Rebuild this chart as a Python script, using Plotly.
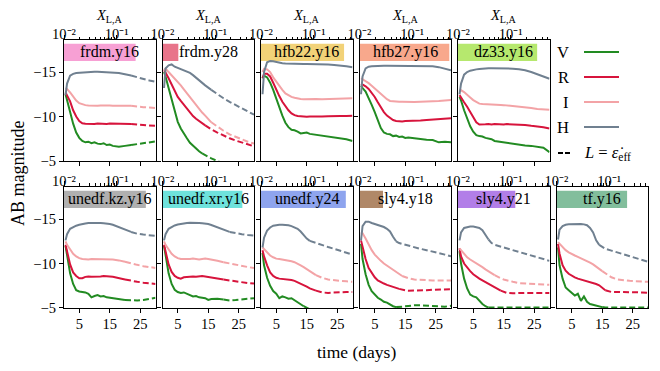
import plotly.graph_objects as go

# time grid (days) shared by all light curves
days = [0.5, 1, 2, 3, 4, 5, 6, 7, 8, 9, 10, 11, 12, 13, 14, 15, 16, 18, 20, 22, 24, 26, 28, 30]

models = ["frdm.y16", "frdm.y28", "hfb22.y16", "hfb27.y16", "dz33.y16",
          "unedf.kz.y16", "unedf.xr.y16", "unedf.y24", "sly4.y18", "sly4.y21", "tf.y16"]
x_la = [0.23, 0.02, 0.38, 0.51, 0.32, 0.36, 0.33, 0.41, 0.028, 0.123, 0.22]
label_colors = ["#f7a0d4", "#e8748a", "#f2d278", "#f8a88c", "#b6e86e",
                "#b0b0b0", "#6ee2dc", "#8ea4ee", "#b08868", "#b27ee8", "#82be9c"]

bands = ["V", "R", "I", "H"]
band_colors = ["#228b22", "#d7143c", "#f3a3a6", "#708090"]

# AB magnitudes, one list per model and band
frdm_y16_V = [-12.5, -11.8, -10.5, -9.2, -8.2, -7.6, -7.25, -7.1, -7.17, -7.0, -7.1, -6.95, -6.9, -7.0, -6.8, -6.85, -6.7, -6.6, -6.7, -6.8, -6.9, -7.0, -7.1, -7.2]
frdm_y16_R = [-12.7, -12.4, -11.7, -10.7, -10.0, -9.5, -9.25, -9.18, -9.15, -9.2, -9.15, -9.22, -9.18, -9.2, -9.16, -9.22, -9.2, -9.18, -9.2, -9.15, -9.1, -9.05, -9.0, -8.95]
frdm_y16_I = [-13.2, -13.1, -12.7, -12.2, -11.8, -11.5, -11.35, -11.28, -11.25, -11.22, -11.25, -11.2, -11.25, -11.22, -11.2, -11.24, -11.22, -11.2, -11.22, -11.2, -11.1, -11.05, -11.0, -10.95]
frdm_y16_H = [-12.4, -13.7, -14.6, -14.8, -14.9, -14.93, -14.95, -14.98, -15.0, -15.0, -15.02, -15.02, -15.0, -15.0, -15.0, -14.98, -14.97, -14.9, -14.75, -14.6, -14.4, -14.2, -14.05, -13.9]

frdm_y28_V = [-15.0, -14.5, -13.2, -11.85, -10.55, -9.4, -8.65, -8.05, -7.55, -7.05, -6.7, -6.35, -6.1, -5.85, -5.65, -5.45, -5.3, -5.0, -4.7, -4.4, -4.1, -3.8, -3.5, -3.2]
frdm_y28_R = [-15.2, -14.95, -14.3, -13.55, -12.9, -12.2, -11.75, -11.3, -10.85, -10.45, -10.05, -9.75, -9.5, -9.25, -9.0, -8.75, -8.55, -8.2, -7.85, -7.55, -7.3, -7.1, -6.9, -6.65]
frdm_y28_I = [-15.2, -15.4, -15.0, -14.65, -14.2, -13.85, -13.5, -13.05, -12.6, -12.15, -11.7, -11.25, -10.85, -10.45, -10.1, -9.7, -9.35, -8.85, -8.4, -8.0, -7.7, -7.4, -7.17, -6.95]
frdm_y28_H = [-13.2, -15.4, -15.75, -15.85, -15.6, -15.45, -15.35, -15.2, -15.05, -14.9, -14.65, -14.35, -14.0, -13.75, -13.5, -13.25, -13.0, -12.5, -12.05, -11.65, -11.3, -10.9, -10.55, -10.2]

hfb22_y16_V = [-14.3, -14.6, -14.4, -13.8, -13.0, -12.0, -11.0, -10.1, -9.3, -8.8, -8.5, -8.45, -8.3, -8.1, -8.15, -8.2, -8.05, -7.95, -7.85, -7.7, -7.6, -7.55, -7.45, -7.25]
hfb22_y16_R = [-14.3, -14.8, -14.8, -14.5, -13.8, -13.0, -12.3, -11.65, -11.1, -10.7, -10.35, -10.15, -10.05, -10.0, -10.0, -9.98, -10.0, -9.97, -10.0, -10.02, -10.0, -10.05, -10.05, -10.1]
hfb22_y16_I = [-15.0, -15.35, -15.3, -15.0, -14.4, -13.9, -13.4, -13.0, -12.6, -12.4, -12.2, -12.1, -12.0, -11.98, -11.95, -11.97, -11.95, -11.98, -11.95, -11.97, -12.0, -11.98, -12.02, -12.05]
hfb22_y16_H = [-12.5, -15.0, -16.1, -16.25, -16.2, -16.1, -16.0, -15.98, -15.95, -15.93, -15.92, -15.9, -15.9, -15.9, -15.9, -15.9, -15.9, -15.88, -15.85, -15.85, -15.8, -15.75, -15.65, -15.55]

hfb27_y16_V = [-13.5, -13.2, -12.8, -12.1, -11.3, -10.5, -9.5, -8.7, -8.2, -8.05, -8.0, -7.8, -7.85, -7.7, -7.75, -7.6, -7.65, -7.55, -7.5, -7.4, -7.35, -7.1, -7.15, -7.1]
hfb27_y16_R = [-13.7, -13.6, -13.4, -13.1, -12.7, -12.2, -11.6, -11.0, -10.5, -10.1, -9.8, -9.6, -9.5, -9.45, -9.45, -9.5, -9.5, -9.55, -9.55, -9.6, -9.65, -9.7, -9.75, -9.8]
hfb27_y16_I = [-14.3, -14.2, -14.0, -13.75, -13.45, -13.15, -12.8, -12.5, -12.2, -11.95, -11.75, -11.7, -11.65, -11.65, -11.67, -11.65, -11.65, -11.62, -11.65, -11.68, -11.65, -11.75, -11.8, -11.85]
hfb27_y16_H = [-12.5, -14.5, -15.4, -15.6, -15.65, -15.68, -15.7, -15.7, -15.7, -15.7, -15.7, -15.7, -15.7, -15.7, -15.7, -15.7, -15.7, -15.7, -15.7, -15.68, -15.65, -15.55, -15.4, -15.2]

dz33_y16_V = [-12.2, -11.8, -10.7, -9.8, -8.9, -8.3, -7.9, -7.8, -7.75, -7.6, -7.55, -7.45, -7.25, -7.2, -7.1, -7.05, -7.0, -6.95, -6.85, -6.75, -6.7, -6.6, -6.5, -6.0]
dz33_y16_R = [-12.4, -12.1, -11.6, -11.1, -10.5, -9.9, -9.35, -9.1, -9.15, -9.12, -9.15, -9.1, -9.15, -9.12, -9.15, -9.1, -9.15, -9.12, -9.1, -9.05, -8.95, -8.9, -8.8, -8.65]
dz33_y16_I = [-13.0, -12.95, -12.75, -12.5, -12.15, -11.85, -11.6, -11.45, -11.4, -11.37, -11.35, -11.33, -11.3, -11.3, -11.3, -11.28, -11.25, -11.2, -11.1, -11.05, -10.95, -10.85, -10.8, -10.75]
dz33_y16_H = [-12.5, -13.7, -14.7, -15.0, -15.15, -15.25, -15.3, -15.35, -15.4, -15.4, -15.42, -15.42, -15.42, -15.4, -15.4, -15.4, -15.4, -15.38, -15.3, -15.2, -15.0, -14.75, -14.5, -14.25]

unedf_kz_y16_V = [-12.0, -10.8, -8.9, -7.7, -7.0, -6.85, -6.8, -6.75, -6.6, -6.2, -6.35, -6.45, -6.3, -6.35, -6.2, -6.15, -6.1, -5.95, -5.9, -5.85, -5.85, -5.9, -6.0, -6.15]
unedf_kz_y16_R = [-12.1, -11.3, -9.9, -9.0, -8.6, -8.35, -8.35, -8.5, -8.55, -8.5, -8.5, -8.55, -8.55, -8.6, -8.6, -8.55, -8.5, -8.35, -8.2, -8.05, -7.95, -7.85, -7.75, -7.7]
unedf_kz_y16_I = [-12.5, -12.1, -11.6, -11.1, -10.8, -10.6, -10.5, -10.45, -10.45, -10.5, -10.5, -10.47, -10.45, -10.5, -10.5, -10.48, -10.45, -10.35, -10.2, -10.0, -9.85, -9.7, -9.6, -9.5]
unedf_kz_y16_H = [-12.6, -13.3, -13.9, -14.1, -14.25, -14.35, -14.45, -14.5, -14.55, -14.57, -14.58, -14.58, -14.55, -14.53, -14.5, -14.45, -14.35, -14.1, -13.8, -13.55, -13.35, -13.25, -13.15, -13.1]

unedf_xr_y16_V = [-12.0, -10.8, -8.9, -7.7, -7.05, -6.8, -6.7, -6.75, -6.6, -6.45, -6.3, -6.35, -6.2, -6.15, -6.1, -5.9, -6.0, -6.05, -5.95, -5.85, -5.9, -5.95, -6.05, -6.1]
unedf_xr_y16_R = [-12.1, -11.3, -9.9, -9.05, -8.6, -8.4, -8.3, -8.45, -8.5, -8.5, -8.55, -8.5, -8.55, -8.6, -8.55, -8.5, -8.45, -8.35, -8.2, -8.1, -7.95, -7.85, -7.8, -7.75]
unedf_xr_y16_I = [-12.5, -12.1, -11.6, -11.1, -10.8, -10.6, -10.5, -10.5, -10.45, -10.5, -10.55, -10.5, -10.45, -10.5, -10.55, -10.5, -10.45, -10.3, -10.15, -10.0, -9.85, -9.7, -9.6, -9.5]
unedf_xr_y16_H = [-12.6, -13.3, -13.9, -14.12, -14.28, -14.38, -14.45, -14.5, -14.55, -14.57, -14.58, -14.57, -14.55, -14.52, -14.5, -14.43, -14.33, -14.1, -13.8, -13.55, -13.4, -13.3, -13.2, -13.15]

unedf_y24_V = [-11.2, -9.8, -8.4, -7.5, -6.9, -6.6, -6.1, -6.3, -6.2, -6.05, -6.1, -5.85, -5.65, -5.45, -5.2, -5.0, -4.8, -4.5, -4.2, -4.0, -3.8, -3.6, -3.4, -3.2]
unedf_y24_R = [-11.5, -10.8, -9.8, -9.0, -8.6, -8.4, -8.3, -8.28, -8.25, -8.2, -8.15, -8.05, -7.9, -7.75, -7.55, -7.4, -7.2, -6.95, -6.75, -6.7, -6.75, -6.75, -6.8, -6.8]
unedf_y24_I = [-11.8, -11.6, -11.2, -10.9, -10.7, -10.55, -10.5, -10.45, -10.4, -10.32, -10.25, -10.15, -10.0, -9.8, -9.6, -9.35, -9.1, -8.7, -8.4, -8.2, -8.1, -8.05, -8.0, -7.95]
unedf_y24_H = [-11.8, -12.9, -13.7, -14.05, -14.25, -14.32, -14.35, -14.36, -14.35, -14.3, -14.2, -14.05, -13.9, -13.6, -13.2, -12.8, -12.55, -12.3, -12.05, -11.85, -11.65, -11.45, -11.2, -11.0]

sly4_y18_V = [-12.2, -10.5, -8.8, -7.6, -6.9, -6.5, -6.15, -5.95, -5.7, -5.6, -5.35, -5.2, -5.1, -5.1, -5.15, -5.2, -5.25, -5.3, -5.3, -5.25, -5.2, -5.2, -5.15, -5.25]
sly4_y18_R = [-12.6, -11.8, -10.5, -9.5, -8.9, -8.45, -8.1, -7.9, -7.75, -7.6, -7.5, -7.4, -7.3, -7.15, -7.05, -7.0, -6.95, -6.95, -7.0, -7.0, -7.05, -7.05, -7.1, -7.1]
sly4_y18_I = [-13.5, -13.4, -12.8, -12.1, -11.5, -11.0, -10.6, -10.3, -10.0, -9.75, -9.5, -9.25, -9.0, -8.8, -8.6, -8.45, -8.35, -8.2, -8.15, -8.1, -8.1, -8.1, -8.1, -8.1]
sly4_y18_H = [-12.6, -14.2, -14.7, -14.7, -14.55, -14.45, -14.35, -14.2, -14.1, -13.9, -13.6, -13.0, -12.5, -12.3, -12.2, -12.1, -12.0, -11.85, -11.65, -11.5, -11.35, -11.2, -11.0, -10.8]

sly4_y21_V = [-11.4, -10.0, -8.3, -7.2, -6.5, -6.3, -6.2, -5.8, -5.45, -5.2, -5.05, -5.05, -5.05, -5.05, -5.05, -5.05, -5.05, -5.05, -5.05, -5.05, -5.05, -5.05, -5.05, -5.05]
sly4_y21_R = [-11.7, -10.8, -10.0, -9.5, -9.15, -8.8, -8.5, -8.3, -8.1, -7.9, -7.75, -7.55, -7.35, -7.15, -6.95, -6.8, -6.7, -6.65, -6.7, -6.7, -6.7, -6.7, -6.7, -6.7]
sly4_y21_I = [-11.7, -11.5, -11.0, -10.7, -10.45, -10.25, -10.05, -9.8, -9.6, -9.35, -9.15, -8.9, -8.7, -8.5, -8.35, -8.2, -8.1, -7.95, -7.8, -7.75, -7.7, -7.65, -7.6, -7.6]
sly4_y21_H = [-12.6, -13.5, -14.0, -14.1, -14.15, -14.15, -14.1, -14.0, -13.75, -13.2, -12.7, -12.3, -12.1, -12.0, -11.9, -11.8, -11.7, -11.5, -11.3, -11.1, -10.9, -10.7, -10.45, -10.3]

tf_y16_V = [-11.8, -9.8, -8.3, -7.3, -7.0, -6.75, -6.4, -6.6, -5.8, -6.3, -5.7, -5.45, -5.35, -5.25, -5.15, -5.1, -5.05, -5.05, -5.05, -5.05, -5.05, -5.05, -5.05, -5.05]
tf_y16_R = [-12.2, -11.1, -9.8, -9.2, -8.85, -8.6, -8.45, -8.3, -8.2, -8.1, -8.05, -7.95, -7.85, -7.7, -7.55, -7.25, -7.0, -6.8, -6.8, -6.8, -6.8, -6.8, -6.75, -6.7]
tf_y16_I = [-12.4, -12.2, -11.8, -11.5, -11.25, -11.05, -10.9, -10.75, -10.6, -10.45, -10.3, -10.1, -9.9, -9.65, -9.4, -9.15, -8.9, -8.45, -8.2, -8.1, -8.05, -8.0, -8.0, -7.95]
tf_y16_H = [-12.7, -13.8, -14.2, -14.35, -14.4, -14.43, -14.45, -14.45, -14.45, -14.4, -14.3, -14.0, -13.5, -12.6, -12.1, -11.85, -11.65, -11.45, -11.25, -11.05, -10.85, -10.6, -10.4, -10.2]

# day after which each band (V, R, I, H) is drawn dashed (L = eps_eff)
switch_days = [
    [22, 22, 22, 22],
    [13, 14, 16, 16],
    [99, 99, 99, 99],
    [99, 99, 99, 99],
    [99, 99, 99, 99],
    [20, 20, 20, 22],
    [20, 20, 20, 22],
    [14, 18, 18, 16],
    [12, 13, 14, 12],
    [10, 14, 12, 10],
    [15, 16, 15, 14],
]

curves = [
    [frdm_y16_V, frdm_y16_R, frdm_y16_I, frdm_y16_H],
    [frdm_y28_V, frdm_y28_R, frdm_y28_I, frdm_y28_H],
    [hfb22_y16_V, hfb22_y16_R, hfb22_y16_I, hfb22_y16_H],
    [hfb27_y16_V, hfb27_y16_R, hfb27_y16_I, hfb27_y16_H],
    [dz33_y16_V, dz33_y16_R, dz33_y16_I, dz33_y16_H],
    [unedf_kz_y16_V, unedf_kz_y16_R, unedf_kz_y16_I, unedf_kz_y16_H],
    [unedf_xr_y16_V, unedf_xr_y16_R, unedf_xr_y16_I, unedf_xr_y16_H],
    [unedf_y24_V, unedf_y24_R, unedf_y24_I, unedf_y24_H],
    [sly4_y18_V, sly4_y18_R, sly4_y18_I, sly4_y18_H],
    [sly4_y21_V, sly4_y21_R, sly4_y21_I, sly4_y21_H],
    [tf_y16_V, tf_y16_R, tf_y16_I, tf_y16_H],
]

top_ticks = [0.01, 0.1]
top_ticktext = ["10\u207b\u00b2", "10\u207b\u00b9"]
top_minor = [0.02, 0.03, 0.04, 0.05, 0.06, 0.07, 0.08, 0.09, 0.2, 0.3, 0.4, 0.5]

FONT = "Liberation Serif"
# the page body adds an 8 px margin, so the figure is 8 px smaller than the window
FIG_W, FIG_H = 652, 363
M_L, M_R, M_T, M_B = 56, 12, 32, 63
W_IN, H_IN = FIG_W - M_L - M_R, FIG_H - M_T - M_B   # 584 x 268
step, pw = 98.5, 91.5
rows = [[0.5485, 1.0], [0.0, 0.4515]]
slots = [(0, c) for c in range(5)] + [(1, c) for c in range(6)]
N = len(models)


def sid(k):
    # plotly names the first axis "x"/"y", not "x1"/"y1"
    return "" if k == 1 else str(k)


# helpers: pixel positions measured on the reference -> paper fractions
def px_x(px):
    return (px - 64) / W_IN


def px_y(py):
    return (308 - py) / H_IN


fig = go.Figure()
layout = {}
shapes = []
annotations = []
tick_font = dict(family=FONT, size=14.5, color="black")

for i, (r, c) in enumerate(slots):
    k = i + 1
    xa, ya, xt = "x" + sid(k), "y" + sid(k), "x" + sid(k + N)
    xd = [c * step / W_IN, (c * step + pw) / W_IN]
    layout["xaxis" + sid(k)] = dict(
        domain=xd, anchor=ya, range=[0, 30], tickvals=[5, 15, 25],
        ticks="outside", ticklen=4, tickcolor="black", showticklabels=(r == 1),
        ticklabelstandoff=-2,
        showline=True, mirror=True, linecolor="black", linewidth=1.3,
        showgrid=False, zeroline=False, tickfont=tick_font)
    layout["yaxis" + sid(k)] = dict(
        domain=rows[r], anchor=xa, range=[-5, -18.6], tickvals=[-15, -10, -5],
        ticks="outside", ticklen=4, tickcolor="black", showticklabels=(c == 0),
        showline=True, mirror=True, linecolor="black", linewidth=1.3,
        showgrid=False, zeroline=False, tickfont=tick_font)
    layout["xaxis" + sid(k + N)] = dict(
        type="log", overlaying=xa, anchor=ya, side="top", range=[-2, -0.26],
        tickmode="array", tickvals=top_ticks, ticktext=top_ticktext,
        ticks="outside", ticklen=4.5, tickcolor="black", showline=False,
        ticklabelstandoff=-10,
        showgrid=False, zeroline=False, tickfont=tick_font,
        minor=dict(tickmode="array", tickvals=top_minor, ticks="outside",
                   ticklen=2.5, tickcolor="black", showgrid=False))

    # invisible anchor trace so the top log axis is always drawn
    fig.add_trace(go.Scatter(x=[x_la[i]], y=[-5], xaxis=xt, yaxis=ya,
                             mode="markers", marker=dict(opacity=0), hoverinfo="skip",
                             showlegend=False))

    for b, band in enumerate(bands):
        vals = curves[i][b]
        sw = switch_days[i][b]
        n_solid = len([t for t in days if t <= sw])
        fig.add_trace(go.Scatter(x=days[:n_solid], y=vals[:n_solid], mode="lines",
                                 line=dict(color=band_colors[b], width=2),
                                 xaxis=xa, yaxis=ya, showlegend=False))
        if n_solid < len(days):
            fig.add_trace(go.Scatter(x=days[n_solid - 1:], y=vals[n_solid - 1:], mode="lines",
                                     line=dict(color=band_colors[b], width=2, dash="6px,3px"),
                                     xaxis=xa, yaxis=ya, showlegend=False))

    # coloured bar showing X_L,A on the top axis
    shapes.append(dict(type="rect", xref=xt, yref=ya + " domain",
                       x0=0.01, x1=x_la[i], y0=0.826, y1=0.97,
                       fillcolor=label_colors[i], line=dict(width=0), layer="below"))
    annotations.append(dict(text=models[i], xref=xa + " domain", yref=ya + " domain",
                            x=0.5, y=0.898, xanchor="center", yanchor="middle",
                            showarrow=False, font=dict(family=FONT, size=16, color="black")))
    if r == 0:
        annotations.append(dict(text="<i>X</i><sub>L,A</sub>", xref=xa + " domain", yref="paper",
                                x=0.5, y=px_y(5), xanchor="center", yanchor="top",
                                showarrow=False, font=dict(family=FONT, size=14.5, color="black")))


# legend in the empty top-right slot
leg_y = [52, 77, 102, 127]
for b, band in enumerate(bands):
    annotations.append(dict(text=band, xref="paper", yref="paper", x=px_x(571), y=px_y(leg_y[b]),
                            xanchor="right", yanchor="middle", showarrow=False,
                            font=dict(family=FONT, size=16.5, color="black")))
    shapes.append(dict(type="line", xref="paper", yref="paper", x0=px_x(584), x1=px_x(619),
                       y0=px_y(leg_y[b]), y1=px_y(leg_y[b]),
                       line=dict(color=band_colors[b], width=2)))
shapes.append(dict(type="line", xref="paper", yref="paper", x0=px_x(558), x1=px_x(571),
                   y0=px_y(153), y1=px_y(153), line=dict(color="black", width=2, dash="5px,2px")))
annotations.append(dict(text="<i>L</i> = <i>\u03b5\u0307</i><sub>eff</sub>", xref="paper", yref="paper",
                        x=px_x(582), y=px_y(153), xanchor="left", yanchor="middle", showarrow=False,
                        font=dict(family=FONT, size=16.5, color="black")))

annotations.append(dict(text="AB magnitude", xref="paper", yref="paper", x=px_x(18), y=px_y(173),
                        textangle=-90, xanchor="center", yanchor="middle", showarrow=False,
                        font=dict(family=FONT, size=18, color="black")))
annotations.append(dict(text="time (days)", xref="paper", yref="paper", x=px_x(356), y=px_y(352),
                        xanchor="center", yanchor="middle", showarrow=False,
                        font=dict(family=FONT, size=17.5, color="black")))

fig.update_layout(
    width=FIG_W, height=FIG_H,
    margin=dict(l=M_L, r=M_R, t=M_T, b=M_B),
    paper_bgcolor="white", plot_bgcolor="white",
    font=dict(family=FONT, color="black"),
    showlegend=False,
    shapes=shapes, annotations=annotations,
    **layout,
)

fig.write_html("out.html")
